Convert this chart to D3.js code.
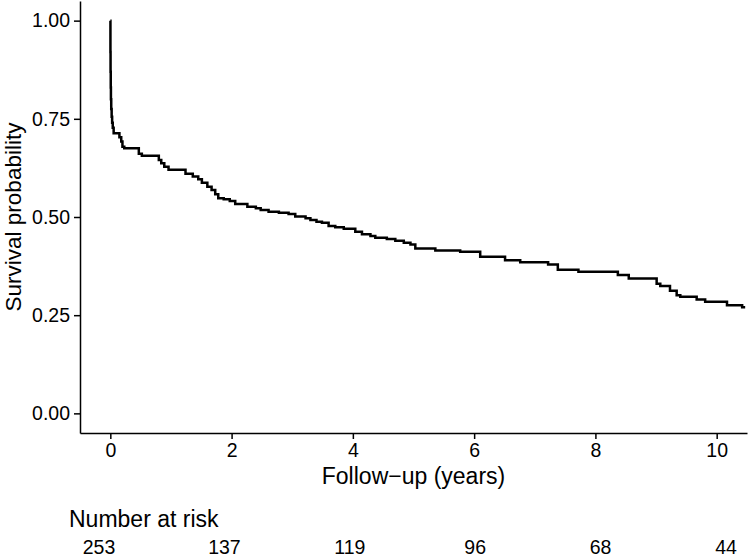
<!DOCTYPE html>
<html>
<head>
<meta charset="utf-8">
<script src="https://cdn.jsdelivr.net/npm/d3@7"></script>
<style>
  html, body { margin: 0; padding: 0; background: #fff; }
  svg { display: block; }
  text { font-family: "Liberation Sans", Arial, Helvetica, sans-serif; fill: #000; }
</style>
</head>
<body>
<svg id="chart" width="748" height="557"></svg>
<script>
// Kaplan-Meier step points (time in years, survival probability after the step)
const times = [0, 0.002, 0.004, 0.007, 0.01, 0.015, 0.022, 0.03, 0.04, 0.055,
  0.15, 0.18, 0.2, 0.23, 0.47, 0.52, 0.80, 0.84, 0.89, 0.96,
  1.24, 1.36, 1.45, 1.51, 1.60, 1.67, 1.73, 1.78, 1.87, 1.97,
  2.06, 2.26, 2.40, 2.48, 2.61, 2.78, 2.94, 3.05, 3.22, 3.30,
  3.40, 3.49, 3.60, 3.71, 3.85, 4.04, 4.15, 4.29, 4.37, 4.56,
  4.70, 4.84, 4.95, 5.03, 5.36, 5.77, 6.10, 6.51, 6.76, 7.22,
  7.38, 7.72, 8.37, 8.55, 9.01, 9.07, 9.23, 9.34, 9.40, 9.67,
  9.81, 10.17, 10.42, 10.47];
const survival = [1, 0.92, 0.87, 0.83, 0.80, 0.775, 0.755, 0.74, 0.727, 0.713,
  0.703, 0.692, 0.679, 0.675, 0.661, 0.656, 0.645, 0.637, 0.628, 0.620,
  0.610, 0.603, 0.596, 0.5875, 0.577, 0.569, 0.558, 0.548, 0.545, 0.541,
  0.533, 0.526, 0.522, 0.518, 0.5135, 0.511, 0.5077, 0.501, 0.4966, 0.4925,
  0.488, 0.4855, 0.477, 0.474, 0.470, 0.4625, 0.456, 0.4515, 0.447, 0.444,
  0.4395, 0.4345, 0.430, 0.420, 0.415, 0.4115, 0.399, 0.390, 0.385, 0.379,
  0.366, 0.3605, 0.352, 0.3435, 0.330, 0.324, 0.312, 0.301, 0.297, 0.290,
  0.284, 0.2755, 0.270, 0.270];

const xTicks = [0, 2, 4, 6, 8, 10];
const yTicks = [0, 0.25, 0.5, 0.75, 1.0];
const riskTimes = [0, 2, 4, 6, 8, 10];
const riskCounts = [253, 137, 119, 96, 68, 44];

const svg = d3.select("#chart");

const x = d3.scaleLinear().domain([-0.5, 10.5]).range([80, 747]);
const y = d3.scaleLinear().domain([-0.05, 1.05]).range([433, 1]);

// Survival curve
const pts = times.map((t, i) => [t, survival[i]]);
const line = d3.line()
  .x(d => x(d[0]))
  .y(d => y(d[1]))
  .curve(d3.curveStepAfter);

svg.append("path")
  .datum(pts)
  .attr("d", line)
  .attr("fill", "none")
  .attr("stroke", "#000")
  .attr("stroke-width", 2.5)
  .attr("stroke-linejoin", "miter");

// Axes
const yAxis = d3.axisLeft(y)
  .tickValues(yTicks)
  .tickFormat(d3.format(".2f"))
  .tickSizeInner(6)
  .tickSizeOuter(0)
  .tickPadding(4);

const xAxis = d3.axisBottom(x)
  .tickValues(xTicks)
  .tickFormat(d3.format("d"))
  .tickSizeInner(6)
  .tickSizeOuter(0)
  .tickPadding(4);

const gy = svg.append("g").attr("transform", "translate(80,0)").call(yAxis);
const gx = svg.append("g").attr("transform", "translate(0,433)").call(xAxis);

[gy, gx].forEach(g => {
  g.select(".domain").attr("stroke", "#000").attr("stroke-width", 1.5);
  g.selectAll(".tick line").attr("stroke", "#000").attr("stroke-width", 1.5);
  g.selectAll(".tick text")
    .attr("font-size", 19.5)
    .attr("font-family", "'Liberation Sans', Arial, sans-serif")
    .attr("fill", "#000");
});

// Axis titles
svg.append("text")
  .attr("x", (80 + 747) / 2)
  .attr("y", 484)
  .attr("text-anchor", "middle")
  .attr("font-size", 23)
  .text("Follow\u2212up (years)");

svg.append("text")
  .attr("transform", "translate(21," + (217) + ") rotate(-90)")
  .attr("text-anchor", "middle")
  .attr("font-size", 22.5)
  .text("Survival probability");

// Number at risk table
svg.append("text")
  .attr("x", 69)
  .attr("y", 527)
  .attr("font-size", 23)
  .text("Number at risk");

const xr = d3.scaleLinear().domain([0, 10]).range([99, 726]);
svg.append("g")
  .selectAll("text")
  .data(riskTimes)
  .join("text")
  .attr("x", d => xr(d))
  .attr("y", 554)
  .attr("text-anchor", "middle")
  .attr("font-size", 19.5)
  .text((d, i) => riskCounts[i]);
</script>
</body>
</html>
